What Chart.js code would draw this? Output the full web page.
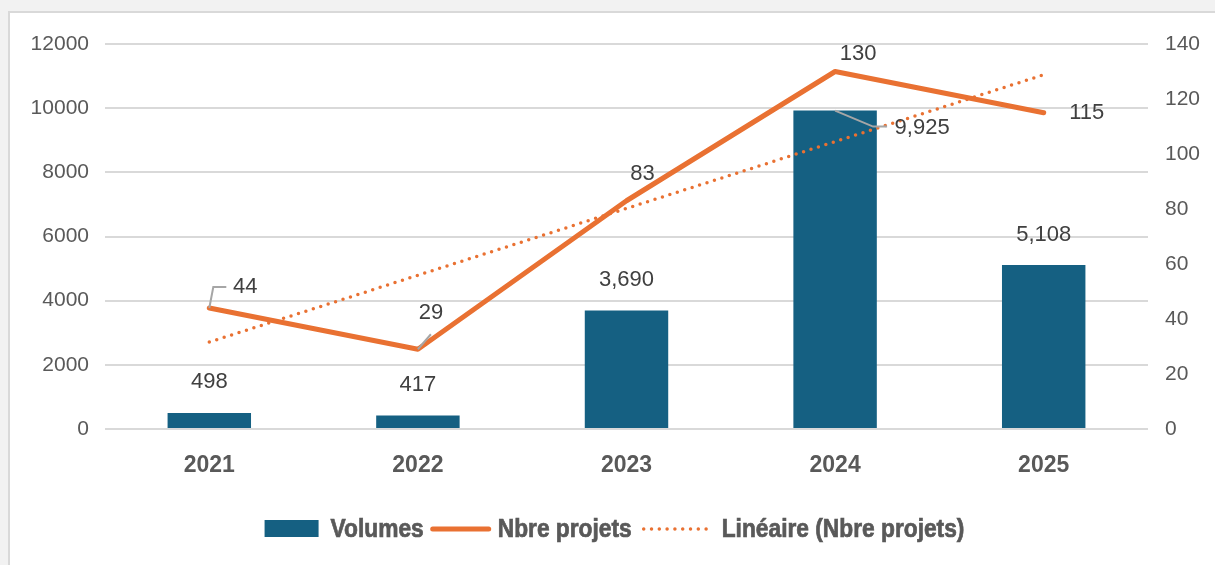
<!DOCTYPE html>
<html>
<head>
<meta charset="utf-8">
<script src="https://cdn.jsdelivr.net/npm/chart.js@4.4.1/dist/chart.umd.min.js"></script>
<style>
  body { margin: 0; background: #f2f2f2; overflow: hidden; width: 1215px; height: 565px; position: relative; }
  #card { position: absolute; left: 8px; top: 11px; width: 1300px; height: 600px; background: #fff; border: 2px solid #d9d9d9; }
  #chart { position: absolute; left: 0; top: 0; }
</style>
</head>
<body>
<div id="card"></div>
<canvas id="chart" width="1215" height="565"></canvas>
<script>
// data
const years = ['2021', '2022', '2023', '2024', '2025'];
const volumes = [498, 417, 3690, 9925, 5108];
const projets = [44, 29, 83, 130, 115];
const lineaire = [31.6, 55.9, 80.2, 104.5, 128.8];

const leftMax = 12000, leftStep = 2000;
const rightMax = 140, rightStep = 20;

const blue = '#156082';
const orange = '#E97132';

// label offsets from the mark (dx, dy) and optional leader line
const barLabelPos = [[0, -31], [0, -31], [0, -31], [87, 17, true], [0, -30]];
const lineLabelPos = [[36, -21, true], [13, -36, true], [16, -27], [23, -18], [43, 0]];

const labelsPlugin = {
  id: 'labels',
  afterDatasetsDraw(chart) {
    const ctx = chart.ctx;
    ctx.save();
    ctx.font = '22px "Liberation Sans", Arial, sans-serif';
    ctx.fillStyle = '#404040';
    ctx.textAlign = 'center';
    ctx.textBaseline = 'middle';

    const bars = chart.getDatasetMeta(0).data;
    bars.forEach((b, i) => {
      const p = barLabelPos[i];
      const lx = b.x + p[0], ly = b.y + p[1];
      if (p[2]) {
        ctx.strokeStyle = '#a6a6a6';
        ctx.lineWidth = 2;
        ctx.beginPath();
        ctx.moveTo(b.x, b.y);
        ctx.lineTo(lx - 49, ly - 1);
        ctx.lineTo(lx - 35, ly - 1);
        ctx.stroke();
      }
      ctx.fillText(volumes[i].toLocaleString('en-US'), lx, ly);
    });

    const pts = chart.getDatasetMeta(1).data;
    pts.forEach((pt, i) => {
      const p = lineLabelPos[i];
      const lx = pt.x + p[0], ly = pt.y + p[1];
      if (p[2]) {
        ctx.strokeStyle = '#a6a6a6';
        ctx.lineWidth = 2;
        ctx.beginPath();
        if (i == 0) {
          ctx.moveTo(pt.x, pt.y);
          ctx.lineTo(pt.x + 4, ly);
          ctx.lineTo(pt.x + 17, ly);
        } else {
          ctx.moveTo(pt.x, pt.y);
          ctx.lineTo(pt.x + 13, pt.y - 15);
        }
        ctx.stroke();
      }
      ctx.fillText(String(projets[i]), lx, ly);
    });
    ctx.restore();
  }
};

// legend drawn by hand so the narrow bold text and dotted key can match
const swatchW = [54, 60, 68];
const gapAfterSwatch = [12, 7, 12];
const gapAfterText = [7, 10, 0];

const legendPlugin = {
  id: 'ownLegend',
  afterDraw(chart) {
    const ctx = chart.ctx;
    const ds = chart.data.datasets;
    const sx = 0.91, cy = 529;
    ctx.save();
    ctx.font = 'bold 25px "Liberation Sans", Arial, sans-serif';
    const widths = ds.map(d => ctx.measureText(d.label).width * sx);
    let total = 0;
    ds.forEach((d, i) => { total += swatchW[i] + gapAfterSwatch[i] + widths[i] + gapAfterText[i]; });
    let x = 614.5 - total / 2;
    ds.forEach((d, i) => {
      const w = swatchW[i];
      if (i == 0) {
        ctx.fillStyle = d.backgroundColor;
        ctx.fillRect(x, cy - 9, w, 17);
      } else {
        ctx.strokeStyle = d.borderColor;
        ctx.lineWidth = d.borderWidth;
        ctx.lineCap = 'round';
        ctx.setLineDash(d.borderDash || []);
        ctx.beginPath();
        ctx.moveTo(x + 2, cy);
        ctx.lineTo(x + w - 2, cy);
        ctx.stroke();
        ctx.setLineDash([]);
      }
      x += w + gapAfterSwatch[i];
      ctx.save();
      ctx.translate(x, cy);
      ctx.scale(sx, 1);
      ctx.fillStyle = '#595959';
      ctx.strokeStyle = '#595959';
      ctx.lineWidth = 0.7;
      ctx.textBaseline = 'middle';
      ctx.fillText(d.label, 0, 1);
      ctx.strokeText(d.label, 0, 1);
      ctx.restore();
      x += widths[i] + gapAfterText[i];
    });
    ctx.restore();
  }
};

new Chart(document.getElementById('chart'), {
  type: 'bar',
  data: {
    labels: years,
    datasets: [
      {
        label: 'Volumes',
        data: volumes,
        backgroundColor: blue,
        borderWidth: 0,
        barPercentage: 0.4,
        categoryPercentage: 1,
        yAxisID: 'y',
        order: 3
      },
      {
        type: 'line',
        label: 'Nbre projets',
        data: projets,
        borderColor: orange,
        backgroundColor: orange,
        borderWidth: 5,
        borderCapStyle: 'round',
        borderJoinStyle: 'round',
        pointRadius: 0,
        yAxisID: 'y1',
        order: 2
      },
      {
        type: 'line',
        label: 'Linéaire (Nbre projets)',
        data: lineaire,
        borderColor: orange,
        backgroundColor: orange,
        borderWidth: 3.5,
        borderDash: [0, 7.8],
        borderCapStyle: 'round',
        pointRadius: 0,
        yAxisID: 'y1',
        order: 1
      }
    ]
  },
  options: {
    responsive: false,
    animation: false,
    layout: { padding: { top: 44, bottom: 86, left: 0, right: 0 } },
    plugins: {
      tooltip: { enabled: false },
      legend: { display: false }
    },
    scales: {
      x: {
        grid: { display: false },
        border: { display: false },
        ticks: {
          color: '#595959',
          padding: 15,
          font: { family: '"Liberation Sans", Arial, sans-serif', size: 23, weight: 'bold' }
        },
        afterFit(s) { s.height = 50; }
      },
      y: {
        position: 'left',
        min: 0, max: leftMax,
        ticks: {
          stepSize: leftStep,
          color: '#595959',
          padding: 16,
          font: { family: '"Liberation Sans", Arial, sans-serif', size: 21 },
          callback: v => String(v)
        },
        grid: { color: '#d9d9d9', lineWidth: 2, drawTicks: false },
        border: { display: false },
        afterFit(s) { s.width = 105; }
      },
      y1: {
        position: 'right',
        min: 0, max: rightMax,
        ticks: {
          stepSize: rightStep,
          color: '#595959',
          padding: 9,
          font: { family: '"Liberation Sans", Arial, sans-serif', size: 21 }
        },
        grid: { display: false },
        border: { display: false },
        afterFit(s) { s.width = 67; }
      }
    }
  },
  plugins: [labelsPlugin, legendPlugin]
});
</script>
</body>
</html>
